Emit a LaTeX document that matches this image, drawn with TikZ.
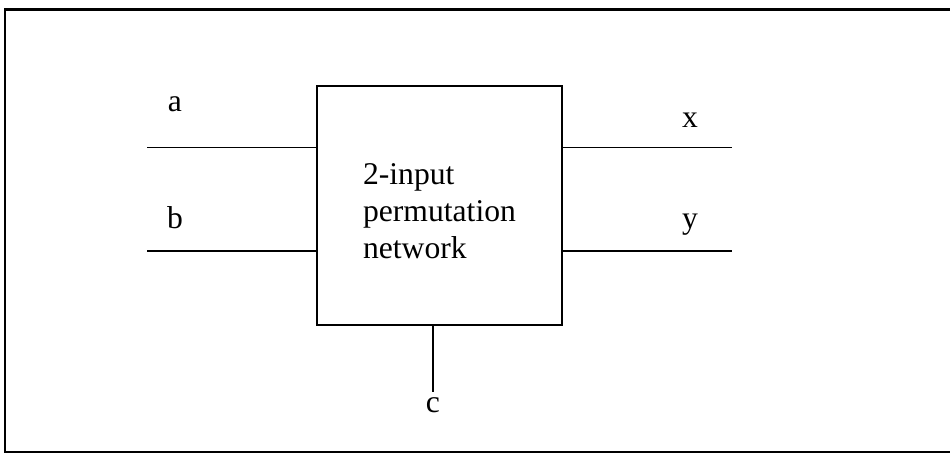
\documentclass[tikz,border=0pt]{standalone}
\usepackage{fontspec}
\setmainfont{Liberation Serif}
\usetikzlibrary{positioning, calc}

\begin{document}
\begin{tikzpicture}[
        box/.style={draw, line width=1.2pt, minimum width=4.9cm, minimum height=4.78cm, inner sep=0pt},
        wire/.style={line width=1.1pt},
        lbl/.style={font=\fontsize{18}{21}\selectfont, inner sep=0pt, anchor=base},
        inner/.style={font=\fontsize{18}{21}\selectfont, align=left, inner sep=0pt},
    ]
    \useasboundingbox (0,0) rectangle (19,9.08);

    % ---- FRAME ----
    \draw[line width=1.2pt] (19.5,8.89) -- (0.10,8.89) -- (0.10,0.04) -- (19.5,0.04);

    % ---- NETWORK ----
    \node[box] (perm) at (8.79,4.97) {};
    \node[inner] (permtext) at ($(perm.center)+(0,-0.12)$) {2-input\\permutation\\network};

    % ---- ENDS ----
    \coordinate (in-a) at (2.94,6.13);
    \coordinate (in-b) at (2.94,4.06);
    \coordinate (out-x) at (14.64,6.13);
    \coordinate (out-y) at (14.64,4.06);
    \coordinate (ctl-c) at (8.66,1.24);

    % ---- LABELS ----
    \node[lbl] (lbl-a) at (3.5,6.86) {a};
    \node[lbl] (lbl-b) at (3.5,4.52) {b};
    \node[lbl] (lbl-x) at (13.8,6.54) {x};
    \node[lbl] (lbl-y) at (13.8,4.52) {y};
    \node[lbl] (lbl-c) at (8.66,0.84) {c};

    % ---- WIRES ----
    \draw[wire] (in-a) -- (in-a -| perm.west);
    \draw[wire] (in-b) -- (in-b -| perm.west);
    \draw[wire] (out-x -| perm.east) -- (out-x);
    \draw[wire] (out-y -| perm.east) -- (out-y);
    \draw[wire] (ctl-c |- perm.south) -- (ctl-c);

\end{tikzpicture}
\end{document}
